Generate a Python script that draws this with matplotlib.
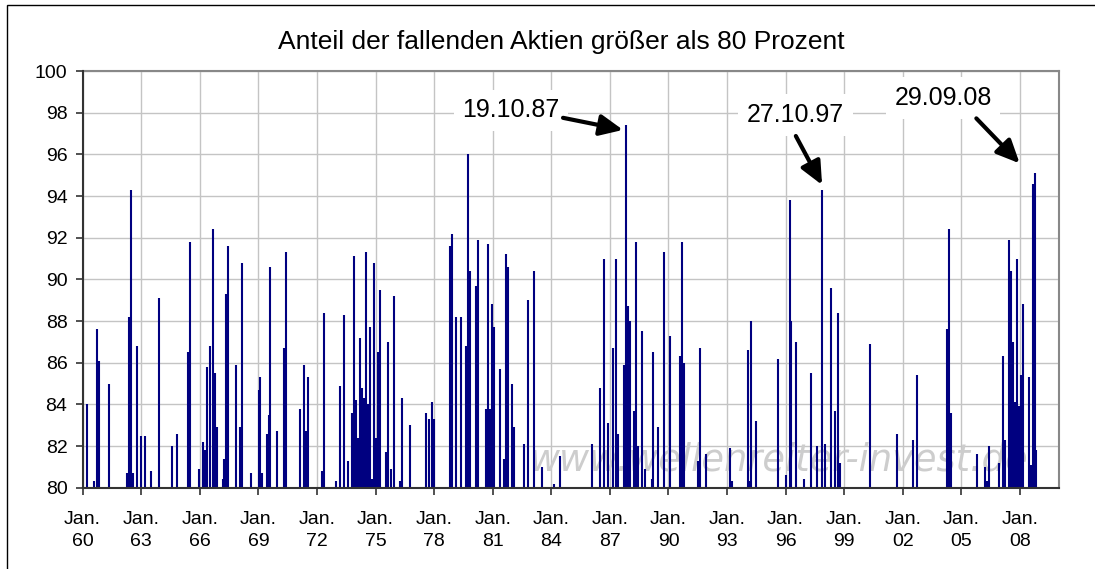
import matplotlib
matplotlib.use("Agg")
import matplotlib.pyplot as plt
from matplotlib.patches import Rectangle
from matplotlib.transforms import offset_copy

plt.rcParams["font.family"] = ["Liberation Sans", "DejaVu Sans"]

# Datum (Dezimaljahr) und Anteil fallender Aktien in Prozent (nur Tage > 80 %)
dates = [
    1960.20, 1960.60, 1960.72, 1960.82, 1961.33, 1962.25, 1962.37, 1962.46, 1962.56, 1962.76,
    1962.97, 1963.19, 1963.50, 1963.91, 1964.60, 1964.81, 1965.40, 1965.50, 1965.94, 1966.14,
    1966.24, 1966.35, 1966.52, 1966.66, 1966.76, 1966.86, 1967.17, 1967.25, 1967.35, 1967.45,
    1967.87, 1968.07, 1968.17, 1968.60, 1969.01, 1969.10, 1969.20, 1969.42, 1969.52, 1969.61,
    1969.93, 1970.29, 1970.43, 1971.14, 1971.35, 1971.45, 1971.55, 1972.27, 1972.37, 1972.99,
    1973.19, 1973.38, 1973.58, 1973.79, 1973.91, 1974.01, 1974.11, 1974.22, 1974.32, 1974.42,
    1974.52, 1974.62, 1974.73, 1974.83, 1974.93, 1975.03, 1975.13, 1975.22, 1975.53, 1975.65,
    1975.77, 1975.94, 1976.24, 1976.35, 1976.76, 1977.57, 1977.76, 1977.88, 1978.00, 1978.80,
    1978.91, 1979.11, 1979.35, 1979.62, 1979.74, 1979.84, 1980.15, 1980.25, 1980.65, 1980.77,
    1980.87, 1980.97, 1981.07, 1981.38, 1981.57, 1981.67, 1981.79, 1981.99, 1982.10, 1982.61,
    1982.81, 1983.12, 1983.53, 1984.13, 1984.43, 1986.07, 1986.48, 1986.69, 1986.89, 1987.18,
    1987.30, 1987.40, 1987.71, 1987.83, 1987.92, 1988.02, 1988.24, 1988.33, 1988.43, 1988.63,
    1988.82, 1989.15, 1989.23, 1989.44, 1989.76, 1990.07, 1990.58, 1990.70, 1990.78, 1991.53,
    1991.60, 1991.91, 1993.14, 1993.25, 1994.05, 1994.15, 1994.25, 1994.46, 1995.60, 1996.01,
    1996.20, 1996.28, 1996.52, 1996.92, 1997.32, 1997.63, 1997.84, 1998.04, 1998.35, 1998.55,
    1998.66, 1998.76, 2000.30, 2001.71, 2002.53, 2002.73, 2004.24, 2004.36, 2004.49, 2005.81,
    2006.22, 2006.32, 2006.42, 2006.93, 2007.14, 2007.24, 2007.44, 2007.55, 2007.65, 2007.75,
    2007.85, 2007.96, 2008.06, 2008.16, 2008.47, 2008.57, 2008.67, 2008.77, 2008.82,
]
values = [
    84.0, 80.3, 87.6, 86.1, 85.0, 80.7, 88.2, 94.3, 80.7, 86.8,
    82.5, 82.5, 80.8, 89.1, 82.0, 82.6, 86.5, 91.8, 80.9, 82.2,
    81.8, 85.8, 86.8, 92.4, 85.5, 82.9, 80.4, 81.4, 89.3, 91.6,
    85.9, 82.9, 90.8, 80.7, 84.7, 85.3, 80.7, 82.6, 83.5, 90.6,
    82.7, 86.7, 91.3, 83.8, 85.9, 82.7, 85.3, 80.8, 88.4, 80.3,
    84.9, 88.3, 81.3, 83.6, 91.1, 84.2, 82.4, 87.2, 84.8, 84.3,
    91.3, 84.0, 87.7, 80.4, 90.8, 82.4, 86.5, 89.5, 81.7, 87.0,
    80.9, 89.2, 80.3, 84.3, 83.0, 83.6, 83.3, 84.1, 83.3, 91.6,
    92.2, 88.2, 88.2, 86.8, 96.0, 90.4, 89.7, 91.9, 83.8, 91.7,
    83.8, 88.8, 87.7, 85.7, 81.4, 91.2, 90.6, 85.0, 82.9, 82.1,
    89.0, 90.4, 81.0, 80.2, 81.5, 82.1, 84.8, 91.0, 83.1, 86.7,
    91.0, 82.6, 85.9, 97.4, 88.7, 88.0, 83.7, 91.8, 82.0, 87.5,
    80.9, 80.4, 86.5, 82.9, 91.3, 87.3, 86.3, 91.8, 86.0, 81.3,
    86.7, 81.6, 81.9, 80.3, 86.6, 80.3, 88.0, 83.2, 86.2, 80.6,
    93.8, 88.0, 87.0, 80.4, 85.5, 82.0, 94.3, 82.1, 89.6, 83.7,
    88.4, 81.2, 86.9, 82.6, 82.3, 85.4, 87.6, 92.4, 83.6, 81.6,
    81.0, 80.3, 82.0, 81.2, 86.3, 82.3, 91.9, 90.4, 87.0, 84.1,
    91.0, 83.9, 85.4, 88.8, 85.3, 81.1, 94.6, 95.1, 81.8,
]

tick_years = list(range(1960, 2009, 3))
tick_labels = [f"Jan.\n{y % 100:02d}" for y in tick_years]

# markierte Crash-Tage
crash_labels = ["19.10.87", "27.10.97", "29.09.08"]
crash_dates = [1987.83, 1997.84, 2008.77]
crash_values = [97.4, 94.3, 95.1]

title = "Anteil der fallenden Aktien größer als 80 Prozent"
watermark = "www.wellenreiter-invest.de"

NAVY = "#000080"

fig = plt.figure(figsize=(10.95, 5.69), dpi=100)
ax = fig.add_axes([0.0755, 0.1429, 0.8916, 0.7323])

ax.vlines(dates, 80, values, color=NAVY, linewidth=1.5, zorder=3)

ax.set_xlim(1960, 2010)
ax.set_ylim(80, 100)
ax.set_yticks(range(80, 101, 2))
ax.set_xticks(tick_years)
ax.set_xticklabels(tick_labels, linespacing=1.35)
ax.tick_params(axis="both", direction="out", length=5, width=1.2, color="#333333", labelsize=14)
ax.tick_params(axis="y", pad=6)
ax.tick_params(axis="x", pad=12)
ax.grid(True, color="#c4c4c4", linewidth=1.0, zorder=0)
ax.set_axisbelow(True)
for side in ["left", "bottom"]:
    ax.spines[side].set_color("#333333")
    ax.spines[side].set_linewidth(1.5)
    ax.spines[side].set_zorder(4)
for side in ["top", "right"]:
    ax.spines[side].set_color("#888888")
    ax.spines[side].set_linewidth(1.5)

ax.text(0.458, 0.042, watermark, transform=ax.transAxes, fontsize=26.5, style="italic",
        family="DejaVu Sans", color="#cdcdcd", va="baseline", ha="left", zorder=1)

# (Text-Offset, Pfeilende, Pfeilspitze) in Punkten relativ zur Spitze
text_offsets = [(-82.8, 10.7), (-18.7, 53.9), (-66.2, 54.0)]
tail_offsets = [(-45.4, 5.3), (-18.5, 38.7), (-42.2, 39.4)]
tip_offsets = [(-2.2, -3.4), (0.4, 3.5), (-11.0, 7.0)]

for label, d, v, t_off, a_off, p_off in zip(crash_labels, crash_dates, crash_values,
                                             text_offsets, tail_offsets, tip_offsets):
    ax.annotate(label, xy=(d, v), xytext=t_off, textcoords="offset points",
                ha="center", va="center", fontsize=18, zorder=6,
                bbox=dict(boxstyle="square,pad=0.35", fc="white", ec="none"))
    tip_trans = offset_copy(ax.transData, fig=fig, x=p_off[0], y=p_off[1], units="points")
    ax.annotate("", xy=(d, v), xycoords=tip_trans,
                xytext=(a_off[0] - p_off[0], a_off[1] - p_off[1]), textcoords="offset points",
                zorder=6,
                arrowprops=dict(arrowstyle="-|>,head_length=0.7,head_width=0.32",
                                mutation_scale=20, lw=3, color="black",
                                shrinkA=0, shrinkB=0))

fig.text(561 / 1095, 1 - 42 / 569, title, ha="center", va="center", fontsize=19)

frame = Rectangle((7 / 1095, -0.1), 1.2, 1.1 - 5 / 569, transform=fig.transFigure,
                  fill=False, ec="black", lw=1.0, zorder=10)
fig.patches.append(frame)

fig.savefig("out.png", dpi=100)
